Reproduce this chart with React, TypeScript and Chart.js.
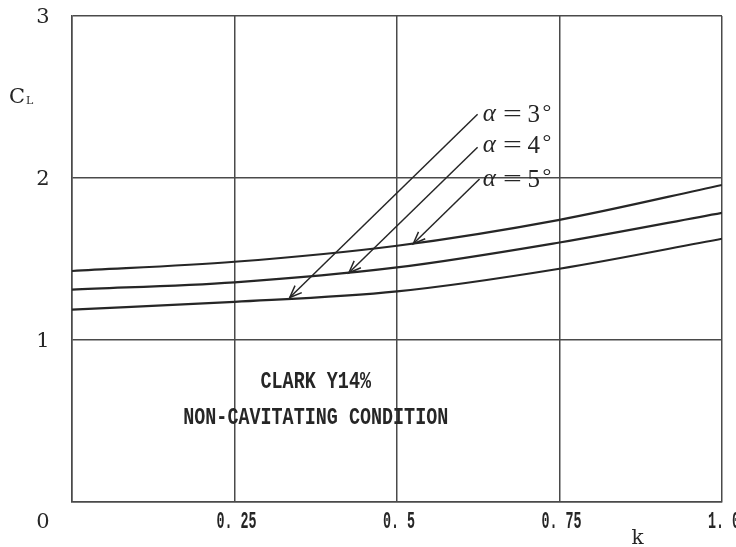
import React, { useEffect, useRef } from "react";
import { Chart, registerables } from "chart.js";

Chart.register(...registerables);

// ---- data ----
const kValues = [0, 0.25, 0.5, 0.75, 1.0];
const clAlpha3 = [1.188, 1.235, 1.3, 1.44, 1.625];
const clAlpha4 = [1.311, 1.356, 1.448, 1.602, 1.785];
const clAlpha5 = [1.426, 1.483, 1.582, 1.742, 1.957];

const xTickValues = [0.25, 0.5, 0.75, 1.0];
const xTickLabels = ["0. 25", "0. 5", "0. 75", "1. 0"];
const yTickValues = [1, 2, 3];
const yTickLabels = ["1", "2", "3"];

const alphaDegrees = ["3", "4", "5"];
// annotation: label anchor (k, CL), arrow start and tip (k, CL)
const labelAnchors = [
  [0.632, 2.39],
  [0.632, 2.2],
  [0.632, 1.99],
];
const arrowStarts = [
  [0.624, 2.394],
  [0.624, 2.19],
  [0.627, 1.994],
];
const arrowTips = [
  [0.335, 1.262],
  [0.426, 1.415],
  [0.525, 1.594],
];
const noteLines = ["CLARK Y14%", "NON-CAVITATING CONDITION"];
const noteAnchors = [
  [0.375, 0.74],
  [0.375, 0.52],
];

const INK = "#262626";
const GRID = "#4a4a4a";

function condensedText(
  ctx: CanvasRenderingContext2D,
  text: string,
  x: number,
  y: number,
  font: string,
  sx: number
) {
  ctx.save();
  ctx.font = font;
  ctx.textAlign = "center";
  ctx.textBaseline = "middle";
  ctx.translate(x, y);
  ctx.scale(sx, 1);
  ctx.fillText(text, 0, 0);
  ctx.restore();
}

const annotPlugin = {
  id: "annot",
  afterDraw(chart: any) {
    const ctx: CanvasRenderingContext2D = chart.ctx;
    const xs = chart.scales.x;
    const ys = chart.scales.y;
    const area = chart.chartArea;
    ctx.save();
    ctx.fillStyle = INK;
    ctx.strokeStyle = INK;

    // y tick labels
    ctx.font = "21px 'DejaVu Serif', serif";
    ctx.textAlign = "center";
    ctx.textBaseline = "middle";
    yTickValues.forEach((v, i) => {
      ctx.fillText(yTickLabels[i], area.left - 29, ys.getPixelForValue(v) + 2);
    });
    ctx.fillText("0", area.left - 29, area.bottom + 21);

    // x tick labels (condensed mono)
    xTickValues.forEach((v, i) => {
      condensedText(
        ctx,
        xTickLabels[i],
        xs.getPixelForValue(v) + 2,
        area.bottom + 20,
        "bold 23px 'Liberation Mono', monospace",
        0.58
      );
    });

    // axis titles
    ctx.font = "21px 'DejaVu Serif', serif";
    ctx.textAlign = "left";
    ctx.textBaseline = "alphabetic";
    ctx.fillText("C", area.left - 63, ys.getPixelForValue(2.5) + 6);
    ctx.font = "11px 'DejaVu Serif', serif";
    ctx.fillText("L", area.left - 46, ys.getPixelForValue(2.5) + 7);
    ctx.font = "20px 'DejaVu Serif', serif";
    ctx.textAlign = "center";
    ctx.fillText("k", xs.getPixelForValue(0.87), area.bottom + 42);

    // notes
    noteLines.forEach((t, i) => {
      condensedText(
        ctx,
        t,
        xs.getPixelForValue(noteAnchors[i][0]),
        ys.getPixelForValue(noteAnchors[i][1]),
        "bold 23px 'Liberation Mono', monospace",
        0.8
      );
    });

    // arrows
    ctx.lineWidth = 1.5;
    arrowStarts.forEach((s, i) => {
      const x0 = xs.getPixelForValue(s[0]);
      const y0 = ys.getPixelForValue(s[1]);
      const x1 = xs.getPixelForValue(arrowTips[i][0]);
      const y1 = ys.getPixelForValue(arrowTips[i][1]);
      ctx.beginPath();
      ctx.moveTo(x0, y0);
      ctx.lineTo(x1, y1);
      ctx.stroke();
      const ang = Math.atan2(y0 - y1, x0 - x1);
      const len = 13;
      const spread = 0.38;
      ctx.beginPath();
      ctx.moveTo(x1 + len * Math.cos(ang + spread), y1 + len * Math.sin(ang + spread));
      ctx.lineTo(x1, y1);
      ctx.lineTo(x1 + len * Math.cos(ang - spread), y1 + len * Math.sin(ang - spread));
      ctx.stroke();
    });

    // series labels: α = n°
    labelAnchors.forEach((a, i) => {
      const x = xs.getPixelForValue(a[0]);
      const y = ys.getPixelForValue(a[1]);
      ctx.textBaseline = "middle";
      ctx.textAlign = "left";
      ctx.font = "italic 25px 'Liberation Serif', 'DejaVu Serif', serif";
      ctx.fillText("α", x, y);
      condensedText(ctx, "=", x + 29.5, y, "23px 'Liberation Serif', 'DejaVu Serif', serif", 1.45);
      ctx.textAlign = "center";
      ctx.textBaseline = "middle";
      ctx.font = "25px 'Liberation Serif', 'DejaVu Serif', serif";
      ctx.fillText(alphaDegrees[i], x + 51, y + 1);
      ctx.font = "22px 'Liberation Serif', 'DejaVu Serif', serif";
      ctx.fillText("°", x + 64, y - 2);
    });
    ctx.restore();
  },
};

export default function App() {
  const ref = useRef<HTMLCanvasElement>(null);
  useEffect(() => {
    if (!ref.current) return;
    const mk = (d: number[]) => ({
      data: kValues.map((k, i) => ({ x: k, y: d[i] })),
      borderColor: INK,
      borderWidth: 2.2,
      pointRadius: 0,
      cubicInterpolationMode: "monotone" as const,
      fill: false,
    });
    const chart = new Chart(ref.current, {
      type: "line",
      data: {
        datasets: [mk(clAlpha3), mk(clAlpha4), mk(clAlpha5)],
      },
      options: {
        animation: false,
        responsive: false,
        layout: { padding: { left: 72, right: 14, top: 16, bottom: 45 } },
        plugins: { legend: { display: false }, tooltip: { enabled: false } },
        scales: {
          x: {
            type: "linear",
            min: 0,
            max: 1,
            ticks: { display: false, stepSize: 0.25 },
            grid: { color: GRID, lineWidth: 1.5, drawTicks: false },
            border: { color: GRID, width: 1.5 },
          },
          y: {
            type: "linear",
            min: 0,
            max: 3,
            ticks: { display: false, stepSize: 1 },
            grid: { color: GRID, lineWidth: 1.5, drawTicks: false },
            border: { color: GRID, width: 1.5 },
          },
        },
      },
      plugins: [annotPlugin],
    });
    return () => chart.destroy();
  }, []);
  return (
    <div style={{ position: "absolute", left: 0, top: 0, width: 736, height: 547, background: "#fff" }}>
      <canvas ref={ref} width={736} height={547} />
    </div>
  );
}
